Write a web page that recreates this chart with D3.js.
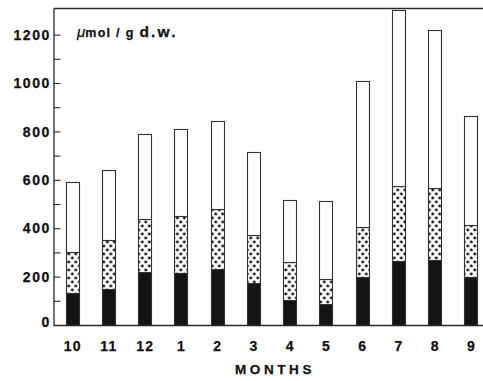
<!DOCTYPE html>
<html>
<head>
<meta charset="utf-8">
<script src="https://cdn.jsdelivr.net/npm/d3@7"></script>
<style>
  html, body { margin: 0; padding: 0; background: #fff; }
  svg { display: block; }
  text { font-family: "Liberation Sans", Arial, Helvetica, sans-serif; font-weight: bold; fill: #111; stroke: #111; stroke-width: 0.25px; }
</style>
</head>
<body>
<svg id="chart" width="483" height="381"></svg>
<script>
const months = ["10","11","12","1","2","3","4","5","6","7","8","9"];
const blackPart  = [132,150,220,215,230,175,105, 85,197,265,270,200];
const dottedPart = [168,200,220,235,250,197,157,107,210,310,295,215];
const whitePart  = [290,290,350,360,365,343,253,320,603,725,655,450];
const yTicks = [0,200,400,600,800,1000,1200];
const yMinorTicks = [100,300,500,700,900,1100];
const seriesKeys = ["black","dotted","white"];

(function () {
const rows = months.map((m, i) => ({month: m, black: blackPart[i], dotted: dottedPart[i], white: whitePart[i]}));

const svg = d3.select("#chart");
const W = 483;
const mLeft = 54, mTop = 8, mBottom = 325;

const x = d3.scaleBand().domain(months).range([54, 489]).paddingInner(0.64).paddingOuter(0.32);
const y = d3.scaleLinear().domain([0, 1310]).range([mBottom, mTop]);

// dot pattern
const defs = svg.append("defs");
const pw = 7, ph = 8;
const pat = defs.append("pattern").attr("id","dots").attr("patternUnits","userSpaceOnUse")
  .attr("width", pw).attr("height", ph).attr("x", 0.5).attr("y", 0);
pat.append("rect").attr("width",pw).attr("height",ph).attr("fill","#fff");
pat.append("circle").attr("cx",1.8).attr("cy",2).attr("r",1.45).attr("fill","#151515");
pat.append("circle").attr("cx",5.3).attr("cy",6).attr("r",1.45).attr("fill","#151515");

const fills = {black: "#141414", dotted: "url(#dots)", white: "#fff"};

const stack = d3.stack().keys(seriesKeys)(rows);

svg.append("g").selectAll("g").data(stack).join("g")
  .attr("fill", d => fills[d.key])
  .selectAll("rect").data(d => d).join("rect")
  .attr("x", d => Math.round(x(d.data.month)) + 0.5)
  .attr("width", Math.round(x.bandwidth()))
  .attr("y", d => Math.round(y(d[1])) + 0.5)
  .attr("height", d => Math.round(y(d[0])) - Math.round(y(d[1])))
  .attr("stroke", "#333").attr("stroke-width", 1.1);

// top border
svg.append("line").attr("x1", mLeft).attr("x2", W).attr("y1", mTop + 0.5).attr("y2", mTop + 0.5)
  .attr("stroke", "#2a2a2a").attr("stroke-width", 1.3);

// y axis
const yAxis = d3.axisLeft(y).tickValues(yTicks).tickSizeInner(-7).tickSizeOuter(0).tickPadding(4)
  .tickFormat(d3.format("d"));
const gy = svg.append("g").attr("transform", `translate(${mLeft - 0.5},0)`).call(yAxis);
gy.select(".domain").attr("stroke","#2a2a2a").attr("stroke-width",1.3);
gy.selectAll(".tick line").attr("stroke","#2a2a2a").attr("stroke-width",1.1);
gy.selectAll(".tick").filter(d => d === 0).select("line").remove();
gy.selectAll(".tick text").attr("font-size", 14).attr("font-family", null).attr("fill","#111")
  .style("letter-spacing","1.6px").attr("dx", 1.5).attr("dy", d => d === 0 ? "0.1em" : "0.33em");
const gym = svg.append("g").attr("transform", `translate(${mLeft - 0.5},0)`)
  .call(d3.axisLeft(y).tickValues(yMinorTicks).tickSizeInner(-7).tickSizeOuter(0).tickFormat(""));
gym.select(".domain").remove();
gym.selectAll(".tick line").attr("stroke","#2a2a2a").attr("stroke-width",1.1);

// x axis
const xAxis = d3.axisBottom(x).tickSize(0).tickPadding(16);
const gx = svg.append("g").attr("transform", `translate(0,${mBottom + 0.5})`).call(xAxis);
gx.select(".domain").attr("d", `M${mLeft - 0.5},0H${W}`).attr("stroke","#2a2a2a").attr("stroke-width",1.5);
gx.selectAll(".tick text").attr("font-size", 14).attr("font-family", null).attr("fill","#111")
  .style("letter-spacing","1.2px").attr("dx", 0.5);

// axis title
svg.append("text").attr("x", 275).attr("y", 374).attr("text-anchor","middle")
  .attr("font-size", 13.5).style("letter-spacing","3.6px").text("MONTHS");

// unit label
const unit = svg.append("text").attr("x", 77).attr("y", 37);
unit.append("tspan").attr("font-style","italic").attr("font-weight","normal").attr("font-size",15).text("μ");
unit.append("tspan").attr("font-size",12.5).style("letter-spacing","1.3px").text("mol / g ");
unit.append("tspan").attr("font-size",15.5).style("letter-spacing","2.2px").text("d.w.");
})();
</script>
</body>
</html>
